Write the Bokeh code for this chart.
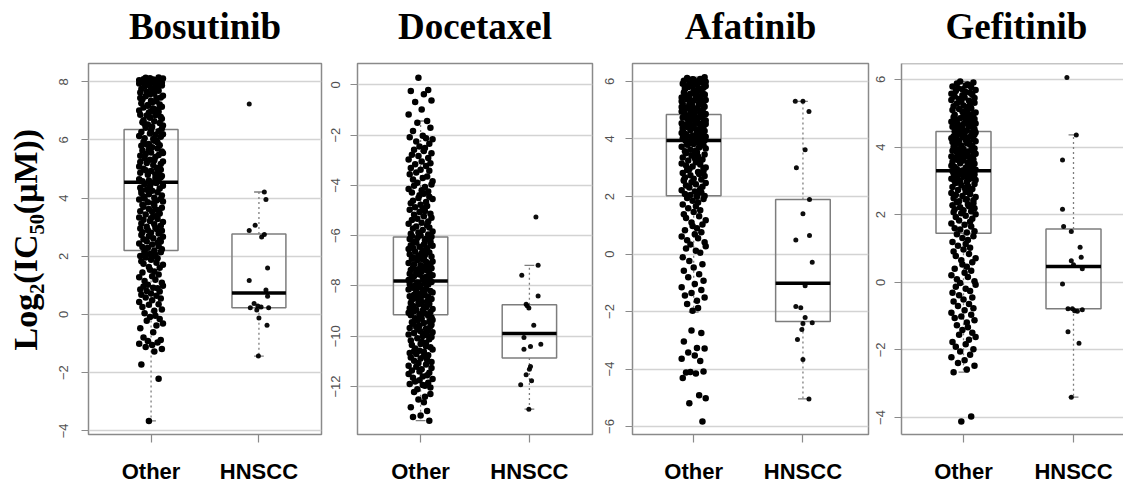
from bokeh.plotting import figure
from bokeh.layouts import row
from bokeh.models import Range1d, FixedTicker, Span, Title
from bokeh.embed import file_html
from bokeh.resources import INLINE

# ---------------- data ----------------
drugs = ["Bosutinib", "Docetaxel", "Afatinib", "Gefitinib"]
groups = ["Other", "HNSCC"]
y_label = "Log\u2082(IC\u2085\u2080(\u03bcM))"
y_ticks = [
    [-4, -2, 0, 2, 4, 6, 8],
    [-12, -10, -8, -6, -4, -2, 0],
    [-6, -4, -2, 0, 2, 4, 6],
    [-4, -2, 0, 2, 4, 6],
]

# box statistics (Other)
other_q1 = [2.20, -9.15, 2.03, 1.45]
other_median = [4.55, -7.80, 3.95, 3.30]
other_q3 = [6.36, -6.05, 4.85, 4.46]
other_lo = [-3.66, -13.36, -2.02, -2.66]
other_hi = [8.15, -1.44, 6.15, 5.94]
# box statistics (HNSCC)
hnscc_q1 = [0.23, -10.87, -2.35, -0.78]
hnscc_median = [0.74, -9.89, -1.02, 0.47]
hnscc_q3 = [2.77, -8.75, 1.90, 1.58]
hnscc_lo = [-1.43, -12.90, -5.04, -3.40]
hnscc_hi = [4.21, -7.18, 5.31, 4.36]

# horizontal jitter of the "Other" points (category units)
other_jitter = [
    -0.02, 0.07, -0.09, 0.03, 0.10, -0.05, 0.01, -0.11, 0.06, -0.03,
    0.09, -0.07, 0.02, -0.10, 0.05, 0.11, -0.04, 0.08, -0.01, 0.04,
    -0.06, 0.03, 0.10, -0.08, -0.02, 0.07, -0.11, 0.01, 0.09, -0.05,
    0.05, -0.09, 0.00, 0.08, -0.04, -0.10, 0.06, 0.02, -0.07, 0.11,
    -0.03, 0.10, -0.06, 0.04, -0.11, 0.01, 0.07, -0.08, 0.03, -0.01,
    0.08, -0.02, 0.11, -0.07, 0.05, -0.09, 0.00, 0.06, -0.05, 0.02,
    -0.10, 0.04, -0.01, 0.09, -0.06, 0.03, 0.10, -0.03, -0.08, 0.07,
    0.01, -0.11, 0.06, -0.04, 0.08, -0.07, 0.02, 0.11, -0.02, -0.09,
    0.07, 0.00, -0.08, 0.10, -0.03, 0.05, -0.10, 0.04, 0.09, -0.06,
    -0.04, 0.09, 0.03, -0.09, 0.11, -0.01, -0.07, 0.06, -0.11, 0.02,
    0.06, -0.05, 0.08, 0.01, -0.10, 0.04, -0.02, 0.10, -0.07, 0.03,
    -0.08, 0.02, -0.03, 0.11, 0.05, -0.11, 0.09, -0.06, 0.00, 0.07,
    0.03, -0.07, 0.10, -0.02, -0.09, 0.06, 0.01, -0.04, 0.08, -0.10,
    -0.01, 0.11, -0.06, 0.05, 0.02, -0.08, 0.07, -0.11, 0.04, 0.09,
    0.10, -0.03, 0.04, -0.10, 0.07, 0.00, -0.05, 0.09, -0.09, -0.02,
    -0.07, 0.05, -0.11, 0.02, 0.09, -0.04, 0.11, 0.03, -0.01, -0.06,
    0.04, -0.10, 0.07, -0.05, 0.00, 0.10, -0.08, -0.02, 0.06, 0.01,
    -0.09, 0.08, -0.02, 0.06, -0.07, 0.03, 0.05, -0.10, 0.11, -0.04,
    0.02, -0.06, 0.09, -0.11, 0.04, -0.01, -0.09, 0.07, 0.00, 0.10,
    -0.05, 0.01, 0.11, -0.03, 0.08, -0.08, 0.03, -0.07, 0.10, -0.01,
    0.09, -0.04, -0.10, 0.05, -0.02, 0.07, 0.00, 0.11, -0.06, 0.04,
    -0.11, 0.06, 0.02, -0.07, 0.10, -0.03, 0.08, -0.09, 0.01, 0.05,
    0.00, -0.08, 0.05, 0.09, -0.05, 0.11, -0.01, 0.03, -0.10, -0.04,
    0.07, 0.03, -0.09, 0.00, 0.06, -0.06, 0.10, -0.02, 0.05, -0.11,
    -0.04, 0.10, 0.01, -0.08, -0.01, 0.08, -0.11, 0.06, 0.02, -0.07,
    0.11, -0.01, -0.05, 0.07, -0.10, 0.02, 0.04, -0.06, 0.09, -0.03,
    -0.06, 0.09, 0.04, -0.02, 0.03, -0.09, 0.06, 0.00, -0.07, 0.08,
]

bosutinib_other = [
    -3.66, -2.21, -1.72, -1.27, -1.19, -1.12, -1.05, -1.01, -0.96, -0.91,
    -0.88, -0.79, -0.61, -0.47, -0.38, -0.31, -0.22, -0.16, -0.09, -0.04,
    0.04, 0.13, 0.17, 0.26, 0.33, 0.35, 0.43, 0.49, 0.55, 0.58,
    0.64, 0.68, 0.72, 0.79, 0.81, 0.86, 0.90, 0.92, 0.96, 0.99,
    1.02, 1.09, 1.15, 1.19, 1.28, 1.31, 1.37, 1.44, 1.48, 1.54,
    1.61, 1.63, 1.71, 1.74, 1.78, 1.83, 1.88, 1.93, 1.96, 1.99,
    2.01, 2.05, 2.08, 2.14, 2.17, 2.20, 2.24, 2.29, 2.32, 2.35,
    2.41, 2.44, 2.47, 2.52, 2.56, 2.59, 2.62, 2.67, 2.70, 2.73,
    2.78, 2.81, 2.83, 2.88, 2.90, 2.94, 2.96, 2.98, 2.51, 2.12,
    3.02, 3.05, 3.10, 3.13, 3.18, 3.21, 3.26, 3.28, 3.33, 3.37,
    3.40, 3.44, 3.47, 3.53, 3.55, 3.61, 3.63, 3.67, 3.70, 3.75,
    3.77, 3.82, 3.86, 3.88, 3.92, 3.95, 3.97, 3.99, 3.31, 3.58,
    4.01, 4.06, 4.09, 4.13, 4.18, 4.20, 4.25, 4.29, 4.33, 4.36,
    4.41, 4.43, 4.48, 4.52, 4.54, 4.58, 4.63, 4.65, 4.69, 4.72,
    4.76, 4.80, 4.82, 4.87, 4.89, 4.93, 4.96, 4.98, 4.27, 4.61,
    5.01, 5.04, 5.09, 5.14, 5.17, 5.21, 5.26, 5.30, 5.32, 5.38,
    5.41, 5.46, 5.48, 5.52, 5.57, 5.60, 5.64, 5.68, 5.71, 5.75,
    5.80, 5.82, 5.86, 5.91, 5.93, 5.97, 5.99, 5.24, 5.55, 5.84,
    6.03, 6.06, 6.11, 6.14, 6.18, 6.22, 6.27, 6.30, 6.33, 6.39,
    6.42, 6.45, 6.50, 6.53, 6.58, 6.61, 6.64, 6.68, 6.73, 6.76,
    6.79, 6.84, 6.87, 6.91, 6.94, 6.97, 6.99, 6.20, 6.55, 6.85,
    7.01, 7.05, 7.08, 7.12, 7.14, 7.18, 7.22, 7.26, 7.29, 7.33,
    7.35, 7.40, 7.43, 7.46, 7.50, 7.52, 7.57, 7.59, 7.63, 7.66,
    7.69, 7.72, 7.75, 7.79, 7.81, 7.84, 7.87, 7.89, 7.92, 7.94,
    7.96, 7.97, 7.99, 8.00, 8.02, 8.03, 8.05, 8.06, 8.08, 8.09,
    8.11, 8.12, 8.14, 8.15, 7.44, 7.68, 7.90, 8.01, 8.07, 7.20,
]

docetaxel_other = [
    0.28, -0.21, -0.25, -0.38, -0.62, -0.68, -0.98, -1.18, -1.44, -1.51,
    -1.71, -1.84, -2.03, -2.09, -2.13, -2.17, -2.26, -2.34, -2.45, -2.51,
    -2.58, -2.63, -2.72, -2.78, -2.83, -2.91, -2.97, -3.05, -3.12, -3.16,
    -3.23, -3.31, -3.38, -3.42, -3.49, -3.56, -3.65, -3.71, -3.77, -3.84,
    -3.90, -3.97, -4.02, -4.07, -4.14, -4.19, -4.24, -4.28, -4.33, -4.39,
    -4.45, -4.50, -4.54, -4.61, -4.66, -4.71, -4.77, -4.82, -4.87, -4.91,
    -4.97, -5.02, -5.06, -5.13, -5.17, -5.23, -5.29, -5.33, -5.38, -5.44,
    -5.49, -5.53, -5.59, -5.64, -5.68, -5.72, -5.78, -5.83, -5.87, -5.92,
    -5.95, -5.99, -6.01, -6.04, -6.09, -6.12, -6.13, -6.18, -6.22, -6.25,
    -6.27, -6.31, -6.35, -6.38, -6.40, -6.44, -6.49, -6.50, -6.53, -6.58,
    -6.61, -6.63, -6.67, -6.70, -6.74, -6.77, -6.79, -6.83, -6.86, -6.88,
    -6.92, -6.95, -6.98, -7.03, -7.04, -7.09, -7.12, -7.14, -7.18, -7.21,
    -7.25, -7.27, -7.30, -7.34, -7.37, -7.39, -7.43, -7.46, -7.48, -7.52,
    -7.55, -7.58, -7.61, -7.64, -7.66, -7.70, -7.73, -7.76, -7.78, -7.81,
    -7.84, -7.87, -7.89, -7.92, -7.94, -7.97, -7.99, -7.60, -8.02, -8.05,
    -8.07, -8.11, -8.14, -8.16, -8.20, -8.23, -8.26, -8.28, -8.32, -8.35,
    -8.37, -8.41, -8.44, -8.47, -8.50, -8.52, -8.56, -8.59, -8.62, -8.64,
    -8.68, -8.71, -8.73, -8.77, -8.80, -8.83, -8.85, -8.89, -8.92, -8.95,
    -8.98, -9.01, -9.04, -9.07, -9.10, -9.13, -9.17, -9.19, -9.23, -9.26,
    -9.29, -9.31, -9.35, -9.38, -9.41, -9.44, -9.47, -9.50, -9.54, -9.57,
    -9.60, -9.63, -9.67, -9.70, -9.73, -9.77, -9.80, -9.84, -9.87, -9.90,
    -9.93, -9.96, -9.99, -8.45, -10.03, -10.08, -10.12, -10.17, -10.21, -10.26,
    -10.31, -10.35, -10.40, -10.44, -10.49, -10.53, -10.58, -10.62, -10.67, -10.71,
    -10.76, -10.80, -10.85, -10.89, -10.94, -10.98, -11.03, -11.07, -11.12, -11.17,
    -11.21, -11.26, -11.31, -11.36, -11.40, -11.45, -11.50, -11.55, -11.60, -11.65,
    -11.70, -11.75, -11.80, -11.85, -11.90, -11.94, -11.97, -10.60, -12.04, -12.11,
    -12.22, -12.30, -12.41, -12.52, -12.63, -12.83, -12.97, -13.15, -13.21, -13.36,
]

afatinib_other = [
    -2.66, -2.75, -3.04, -3.27, -3.29, -3.43, -3.53, -3.64, -3.72, -4.10,
    -4.09, -4.12, -4.16, -4.31, -4.91, -5.02, -5.19, -5.83, -1.97, -1.88,
    -1.74, -1.63, -1.51, -1.44, -1.36, -1.25, -1.16, -1.04, -0.93, -0.81,
    -0.70, -0.58, -0.47, -0.36, -0.24, -0.11, 0.04, 0.11, 0.19, 0.27,
    0.33, 0.41, 0.48, 0.55, 0.61, 0.69, 0.76, 0.83, 0.90, 0.97,
    1.03, 1.10, 1.17, 1.25, 1.31, 1.38, 1.46, 1.52, 1.59, 1.66,
    1.72, 1.79, 1.85, 1.91, 1.95, 1.99, 2.02, 2.05, 2.09, 2.14,
    2.17, 2.22, 2.26, 2.31, 2.34, 2.38, 2.43, 2.47, 2.50, 2.55,
    2.59, 2.62, 2.66, 2.71, 2.74, 2.78, 2.82, 2.85, 2.89, 2.92,
    2.95, 2.98, 2.13, 2.57, 3.01, 3.04, 3.08, 3.11, 3.15, 3.19,
    3.22, 3.25, 3.29, 3.33, 3.36, 3.39, 3.43, 3.46, 3.50, 3.53,
    3.57, 3.60, 3.63, 3.67, 3.70, 3.73, 3.77, 3.80, 3.83, 3.86,
    3.89, 3.92, 3.95, 3.97, 3.99, 3.27, 3.55, 3.84, 4.01, 4.03,
    4.05, 4.08, 4.10, 4.12, 4.14, 4.17, 4.19, 4.21, 4.23, 4.26,
    4.28, 4.30, 4.32, 4.35, 4.37, 4.39, 4.41, 4.44, 4.46, 4.48,
    4.50, 4.53, 4.55, 4.57, 4.59, 4.62, 4.64, 4.66, 4.68, 4.71,
    4.73, 4.75, 4.77, 4.80, 4.82, 4.84, 4.86, 4.89, 4.91, 4.93,
    4.95, 4.97, 4.99, 4.06, 4.16, 4.25, 4.34, 4.43, 4.52, 4.61,
    4.70, 4.79, 4.88, 4.96, 4.02, 4.11, 4.22, 4.33, 4.45, 4.56,
    4.67, 4.78, 4.87, 4.98, 5.01, 5.04, 5.06, 5.09, 5.12, 5.14,
    5.17, 5.20, 5.22, 5.25, 5.28, 5.30, 5.33, 5.36, 5.38, 5.41,
    5.44, 5.46, 5.49, 5.52, 5.54, 5.57, 5.60, 5.62, 5.65, 5.68,
    5.70, 5.73, 5.76, 5.78, 5.81, 5.84, 5.86, 5.89, 5.92, 5.94,
    5.97, 6.00, 6.03, 6.06, 6.09, 6.12, 6.15, 5.07, 5.19, 5.31,
    5.43, 5.55, 5.67, 5.79, 5.91, 6.02, 5.11, 5.35, 5.59, 5.83,
    5.99, 6.08,
]

gefitinib_other = [
    -4.12, -3.97, -2.66, -2.58, -2.47, -2.39, -2.31, -2.22, -2.14, -2.05,
    -1.98, -1.91, -1.83, -1.77, -1.70, -1.62, -1.55, -1.49, -1.41, -1.33,
    -1.27, -1.19, -1.12, -1.06, -1.01, -0.96, -0.90, -0.83, -0.77, -0.70,
    -0.64, -0.57, -0.51, -0.45, -0.38, -0.31, -0.26, -0.19, -0.13, -0.07,
    -0.02, 0.03, 0.09, 0.16, 0.21, 0.28, 0.34, 0.40, 0.46, 0.53,
    0.59, 0.65, 0.71, 0.78, 0.84, 0.91, 0.97, 1.02, 1.08, 1.13,
    1.19, 1.25, 1.31, 1.36, 1.42, 1.47, 1.51, 1.56, 1.60, 1.65,
    1.70, 1.74, 1.79, 1.83, 1.88, 1.93, 1.97, 2.01, 2.04, 2.07,
    2.10, 2.13, 2.16, 2.19, 2.22, 2.25, 2.28, 2.31, 2.34, 2.37,
    2.40, 2.43, 2.46, 2.49, 2.52, 2.55, 2.58, 2.61, 2.64, 2.67,
    2.70, 2.73, 2.76, 2.79, 2.82, 2.85, 2.88, 2.91, 2.94, 2.97,
    2.99, 2.45, 3.01, 3.03, 3.05, 3.06, 3.08, 3.10, 3.12, 3.13,
    3.15, 3.17, 3.19, 3.20, 3.22, 3.24, 3.25, 3.27, 3.28, 3.29,
    3.31, 3.33, 3.35, 3.37, 3.39, 3.41, 3.43, 3.45, 3.47, 3.49,
    3.51, 3.52, 3.54, 3.56, 3.58, 3.60, 3.62, 3.63, 3.65, 3.67,
    3.69, 3.71, 3.72, 3.74, 3.76, 3.78, 3.80, 3.81, 3.83, 3.85,
    3.87, 3.89, 3.90, 3.92, 3.94, 3.96, 3.98, 3.99, 3.46, 3.75,
    4.01, 4.03, 4.05, 4.07, 4.09, 4.11, 4.13, 4.15, 4.17, 4.19,
    4.21, 4.22, 4.24, 4.26, 4.28, 4.30, 4.32, 4.34, 4.36, 4.37,
    4.39, 4.41, 4.43, 4.44, 4.45, 4.47, 4.49, 4.51, 4.53, 4.55,
    4.57, 4.58, 4.60, 4.62, 4.64, 4.66, 4.68, 4.70, 4.72, 4.73,
    4.75, 4.77, 4.79, 4.81, 4.83, 4.85, 4.86, 4.88, 4.90, 4.92,
    4.94, 4.96, 4.97, 4.99, 4.61, 5.02, 5.05, 5.07, 5.10, 5.13,
    5.15, 5.18, 5.21, 5.23, 5.26, 5.29, 5.31, 5.34, 5.37, 5.39,
    5.42, 5.45, 5.47, 5.50, 5.53, 5.55, 5.58, 5.61, 5.63, 5.66,
    5.69, 5.71, 5.74, 5.77, 5.79, 5.82, 5.85, 5.88, 5.91, 5.94,
]

bosutinib_hnscc = [7.24, 4.21, 3.95, 2.89, 3.07, 2.66, 2.75, 1.60, 1.17, 0.84,
                   0.63, 0.38, 0.29, 0.26, 0.23, 0.23, 0.15, -0.12, -0.37, -1.43]
bosutinib_hnscc_dx = [-0.09, 0.05, 0.065, -0.09, -0.035, 0.025, 0.05, 0.08, -0.09, 0.065,
                      0.08, -0.045, -0.01, 0.02, -0.08, 0.09, -0.02, 0.0, 0.075, -0.005]
docetaxel_hnscc = [-5.26, -7.18, -7.58, -8.40, -8.73, -8.79, -8.88, -9.56, -10.05,
                   -10.52, -10.41, -10.32, -11.20, -11.31, -11.53, -11.77, -11.93, -12.90]
docetaxel_hnscc_dx = [0.06, 0.08, -0.07, 0.08, -0.03, -0.02, -0.005, 0.04, -0.05,
                      -0.05, 0.01, 0.105, 0.01, 0.0, -0.03, 0.02, -0.08, -0.005]
afatinib_hnscc = [5.31, 5.31, 4.96, 3.63, 3.00, 1.90, 1.40, 0.49, 0.64, -0.29,
                  -1.10, -1.83, -1.87, -2.21, -2.39, -2.42, -2.63, -2.97, -3.67, -5.04]
afatinib_hnscc_dx = [-0.07, 0.0, 0.055, 0.02, -0.06, 0.06, 0.0, -0.065, 0.06, 0.085,
                     0.02, -0.065, -0.02, 0.02, 0.085, 0.0, -0.01, -0.05, 0.0, 0.055]
gefitinib_hnscc = [6.06, 4.36, 3.62, 2.16, 1.65, 1.50, 1.04, 0.74, 0.64, 0.52,
                   0.40, -0.05, -0.78, -0.78, -0.84, -0.86, -0.81, -1.46, -1.80, -3.40]
gefitinib_hnscc_dx = [-0.06, 0.025, -0.10, -0.10, -0.09, -0.02, 0.06, 0.07, -0.02, 0.0,
                      0.08, -0.10, -0.05, -0.01, 0.01, 0.035, 0.08, -0.05, 0.05, -0.02]

other_values = [bosutinib_other, docetaxel_other, afatinib_other, gefitinib_other]
hnscc_values = [bosutinib_hnscc, docetaxel_hnscc, afatinib_hnscc, gefitinib_hnscc]
hnscc_jitter = [bosutinib_hnscc_dx, docetaxel_hnscc_dx, afatinib_hnscc_dx, gefitinib_hnscc_dx]

# ---------------- layout / style ----------------
panel_geom = [
    # border left, frame width, border right, border top, frame height, x range, y range,
    # title align, title offset, tick-label standoff
    (88, 233, 2, 61, 371, (0.42, 2.58), (-4.127, 8.629), "center", 0, 13),
    (34, 235, 2, 61, 371, (0.42, 2.58), (-13.909, 0.847), "center", 0, 10),
    (38, 236, 2, 63, 371, (0.44, 2.60), (-6.278, 6.626), "center", 0, 11),
    (31, 222, 0, 62, 371, (0.4364, 2.4545), (-4.503, 6.473), "left", 44, 9),
]
WIN_H = 484
FRAME = "#8a8a8a"
BOXC = "#7d7d7d"
GRID = "#d3d3d3"
BW = 0.25
STAPLE = 0.045
DOT = 6.5


def spacer(px):
    return Title(text=" ", text_font_size=px, standoff=0)


figs = []
for i, drug in enumerate(drugs):
    bl, fw, br, bt, fh, xr, yr, talign, toff, tls = panel_geom[i]
    p = figure(frame_width=fw, frame_height=fh,
               min_border_left=bl, min_border_right=br,
               min_border_top=bt, min_border_bottom=WIN_H - bt - fh,
               x_range=Range1d(*xr), y_range=Range1d(*yr),
               output_backend="svg", toolbar_location=None,
               background_fill_color="white", border_fill_color="white")
    p.title.text = drug
    p.title.text_font = "Liberation Serif"
    p.title.text_font_style = "bold"
    p.title.text_font_size = "37px"
    p.title.text_color = "black"
    p.title.align = talign
    p.title.standoff = 0
    p.title.offset = toff
    p.add_layout(spacer("13px"), "above")

    if i < 3:
        p.outline_line_color = FRAME
        p.outline_line_width = 1.5
        p.xaxis.axis_line_color = None
        p.yaxis.axis_line_color = None
    else:
        p.outline_line_color = None
        p.xaxis.axis_line_color = FRAME
        p.xaxis.axis_line_width = 1.5
        p.yaxis.axis_line_color = FRAME
        p.yaxis.axis_line_width = 1.5
        p.add_layout(Span(location=yr[1], dimension="width",
                          line_color=FRAME, line_width=1.5))

    # y axis
    yt = FixedTicker(ticks=y_ticks[i])
    p.yaxis.ticker = yt
    p.ygrid.ticker = yt
    p.yaxis.major_label_orientation = "vertical"
    p.yaxis.major_label_text_font = "Liberation Sans"
    p.yaxis.major_label_text_font_size = "13px"
    p.yaxis.major_label_text_color = "#505050"
    p.yaxis.major_label_standoff = tls
    p.yaxis.major_tick_out = 7
    p.yaxis.major_tick_in = 0
    p.yaxis.major_tick_line_color = FRAME
    p.yaxis.major_tick_line_width = 1.2
    p.yaxis.minor_tick_line_color = None
    if i == 0:
        p.add_layout(spacer("10px"), "left")
        p.add_layout(Title(text=y_label, align="left", offset=84,
                           text_font="Liberation Serif", text_font_style="bold",
                           text_font_size="34px", text_color="black",
                           standoff=0), "left")

    # x axis
    p.xaxis.ticker = FixedTicker(ticks=[1, 2])
    p.xaxis.major_label_overrides = {k + 1: g for k, g in enumerate(groups)}
    p.xaxis.major_label_text_font = "Liberation Sans"
    p.xaxis.major_label_text_font_style = "bold"
    p.xaxis.major_label_text_font_size = "22px"
    p.xaxis.major_label_text_color = "black"
    p.xaxis.major_label_standoff = 16
    p.xaxis.major_tick_out = 8
    p.xaxis.major_tick_in = 0
    p.xaxis.major_tick_line_color = FRAME
    p.xaxis.major_tick_line_width = 1.2
    p.xaxis.minor_tick_line_color = None

    p.xgrid.visible = False
    p.ygrid.grid_line_color = GRID
    p.ygrid.grid_line_width = 1.5

    q1 = [other_q1[i], hnscc_q1[i]]
    q3 = [other_q3[i], hnscc_q3[i]]
    med = [other_median[i], hnscc_median[i]]
    lo = [other_lo[i], hnscc_lo[i]]
    hi = [other_hi[i], hnscc_hi[i]]
    xc = [1, 2]

    # boxes
    p.quad(left=[c - BW for c in xc], right=[c + BW for c in xc],
           bottom=q1, top=q3, fill_color=None,
           line_color=BOXC, line_width=1.5)
    # whiskers
    p.segment(x0=xc + xc, y0=q3 + q1, x1=xc + xc, y1=hi + lo,
              line_color=BOXC, line_width=1.3, line_dash="2 3")
    p.segment(x0=[c - STAPLE for c in xc + xc], y0=hi + lo,
              x1=[c + STAPLE for c in xc + xc], y1=hi + lo,
              line_color=BOXC, line_width=1.3)

    # points
    ov = other_values[i]
    ox = [1 + d for d, _ in zip(other_jitter, ov)]
    oy = [v for _, v in zip(other_jitter, ov)]
    p.scatter(x=ox, y=oy, size=DOT, fill_color="black", fill_alpha=1.0, line_color=None)
    hx = [2 + d for d in hnscc_jitter[i]]
    p.scatter(x=hx, y=hnscc_values[i], size=5, fill_color="black", fill_alpha=0.95, line_color=None)

    # medians
    p.segment(x0=[c - BW for c in xc], y0=med, x1=[c + BW for c in xc], y1=med,
              line_color="black", line_width=3.5)

    figs.append(p)

layout = row(*figs, spacing=0)
open("out.html", "w").write(file_html(layout, INLINE))
